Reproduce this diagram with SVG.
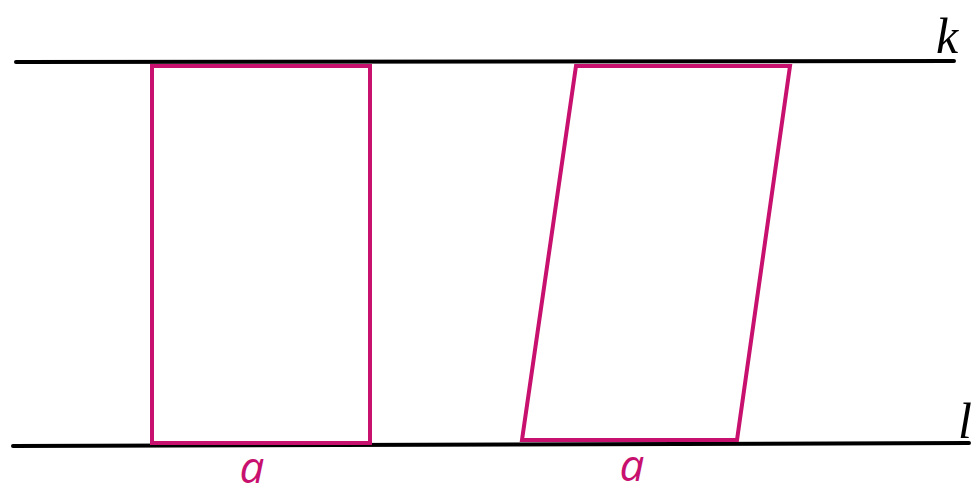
<svg xmlns="http://www.w3.org/2000/svg" width="980" height="497" viewBox="0 0 980 497">
<style>
.line{stroke:#000;stroke-width:4;stroke-linecap:round;fill:none}
.shape{stroke:#C8106E;stroke-width:4;fill:none;stroke-linejoin:miter}
.lab{fill:#C8106E;font-family:"Open Sans",sans-serif;font-style:italic;font-size:44px;text-anchor:middle}
.name{fill:#000;font-family:"Liberation Serif",serif;font-style:italic;font-size:50px}
</style>
<rect width="980" height="497" fill="#fff"/>
<g id="connectors">
<line id="k" class="line" x1="16" y1="62" x2="954" y2="61"/>
<line id="l" class="line" x1="13" y1="446" x2="969" y2="443"/>
</g>
<g id="rectangle">
<polygon class="shape" points="152,66 370,66 370,443 152,443"/>
<text class="lab" x="252" y="483">a</text>
</g>
<g id="parallelogram">
<polygon class="shape" points="576,66 790,66 737,440 522,440"/>
<text class="lab" x="632" y="481">a</text>
</g>
<g id="labels">
<text class="name" x="936" y="53">k</text>
<text class="name" x="958" y="438">l</text>
</g>
</svg>
